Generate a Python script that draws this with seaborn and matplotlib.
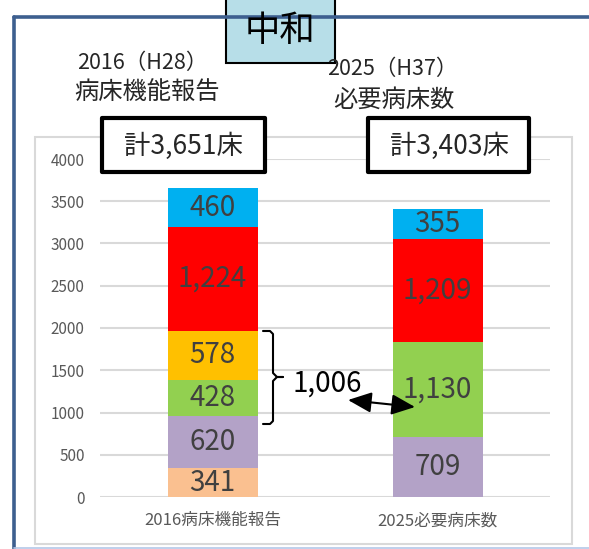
import matplotlib
matplotlib.use('Agg')
import matplotlib.pyplot as plt
import seaborn as sns
import numpy as np
from matplotlib.patches import Rectangle, FancyArrowPatch
from matplotlib.lines import Line2D

# ---- data ----
categories = ['2016病床機能報告', '2025必要病床数']
kyuto = [341, 0]            # peach
manseiki = [620, 709]       # lavender
kaifukuki = [428, 1130]     # green
kyusei_kaifuku = [578, 0]   # orange
kyuseiki = [1224, 1209]     # red
kodo = [460, 355]           # cyan
totals_text = ['計3,651床', '計3,403床']
header_top = ['2016（H28）', '2025（H37）']
header_bottom = ['病床機能報告', '必要病床数']
title_text = '中和'
bracket_text = '1,006'
yticks = [0, 500, 1000, 1500, 2000, 2500, 3000, 3500, 4000]

layers = [kyuto, manseiki, kaifukuki, kyusei_kaifuku, kyuseiki, kodo]
colors = ['#FAC090', '#B3A2C7', '#92D050', '#FFC000', '#FF0000', '#00B0F0']

sns.set_theme(style='white')
plt.rcParams['font.family'] = ['Noto Sans CJK JP', 'DejaVu Sans']

W, H = 589, 549
fig = plt.figure(figsize=(W / 100, H / 100), dpi=100)
fig.patch.set_facecolor('white')
ax = fig.add_axes([100 / W, 1 - 497 / H, 450 / W, 338 / H])

cum = np.cumsum(np.array(layers), axis=0)
for i in reversed(range(len(layers))):
    sns.barplot(x=categories, y=cum[i], color=colors[i], width=0.4,
                saturation=1, errorbar=None, ax=ax, linewidth=0, zorder=2)

for i, layer in enumerate(layers):
    for j, v in enumerate(layer):
        if v > 0:
            ax.text(j, cum[i][j] - v / 2, f'{v:,}', ha='center', va='center',
                    fontsize=20, color='#404040', zorder=3)

ax.set_xlim(-0.5, 1.5)
ax.set_ylim(0, 4000)
ax.set_yticks(yticks)
ax.set_yticklabels([str(t) for t in yticks])
ax.yaxis.grid(True, color='#D9D9D9', lw=1.5)
ax.xaxis.grid(False)
ax.set_axisbelow(True)
for s in ax.spines.values():
    s.set_visible(False)
ax.tick_params(axis='y', labelsize=11, colors='#595959', length=0, pad=11)
ax.tick_params(axis='x', labelsize=12, colors='#595959', length=0, pad=11)
ax.set_xlabel('')
ax.set_ylabel('')
ax.patch.set_alpha(0)

# ---- overlay decorations (pixel coords) ----
ov = fig.add_axes([0, 0, 1, 1], zorder=5)
ov.set_xlim(0, W)
ov.set_ylim(H, 0)
ov.axis('off')
ov.patch.set_alpha(0)

# outer frame
ov.add_line(Line2D([13.5, 13.5], [17, H], color='#3D5F8F', lw=2.6))
ov.add_line(Line2D([13.5, W], [17, 17], color='#3D5F8F', lw=2.6))
ov.add_line(Line2D([13.5, W], [547.5, 547.5], color='#B4C7E7', lw=1.2))
# inner chart frame
ov.add_patch(Rectangle((35, 137), 537, 407, fill=False, edgecolor='#D9D9D9', lw=1.5))

# title box
ov.add_patch(Rectangle((226, -2), 109, 65, facecolor='#B7DEE8', edgecolor='black', lw=1.5))
ov.text(280.5, 31, title_text, fontsize=25.5, ha='center', va='center', color='black')

# headers
ov.text(142, 63, header_top[0], fontsize=15.5, ha='center', va='center')
ov.text(147, 92, header_bottom[0], fontsize=17.5, ha='center', va='center')
ov.text(392, 69, header_top[1], fontsize=15.5, ha='center', va='center')
ov.text(394, 100, header_bottom[1], fontsize=17.5, ha='center', va='center')

# total boxes
ov.add_patch(Rectangle((102, 118), 163, 54, facecolor='white', edgecolor='black', lw=3, joinstyle='round'))
ov.add_patch(Rectangle((368, 118), 161, 54, facecolor='white', edgecolor='black', lw=3, joinstyle='round'))
ov.text(183, 146, totals_text[0], fontsize=19, ha='center', va='center')
ov.text(449, 146, totals_text[1], fontsize=19, ha='center', va='center')

# bracket
ov.add_line(Line2D([263, 270, 273, 273, 277, 283], [331, 331, 334, 373, 377, 377], color='black', lw=1.5))
ov.add_line(Line2D([283, 277, 273, 273, 270, 263], [377, 377, 381, 421, 424, 424], color='black', lw=1.5))
ov.text(327, 384, bracket_text, fontsize=20, ha='center', va='center', color='black')

# arrow
ov.add_patch(FancyArrowPatch((348, 400), (415, 407), arrowstyle='<|-|>,head_length=0.8,head_width=0.35',
                             mutation_scale=18, color='black', lw=1.5, shrinkA=0, shrinkB=0))

fig.savefig('out.png', dpi=100)
